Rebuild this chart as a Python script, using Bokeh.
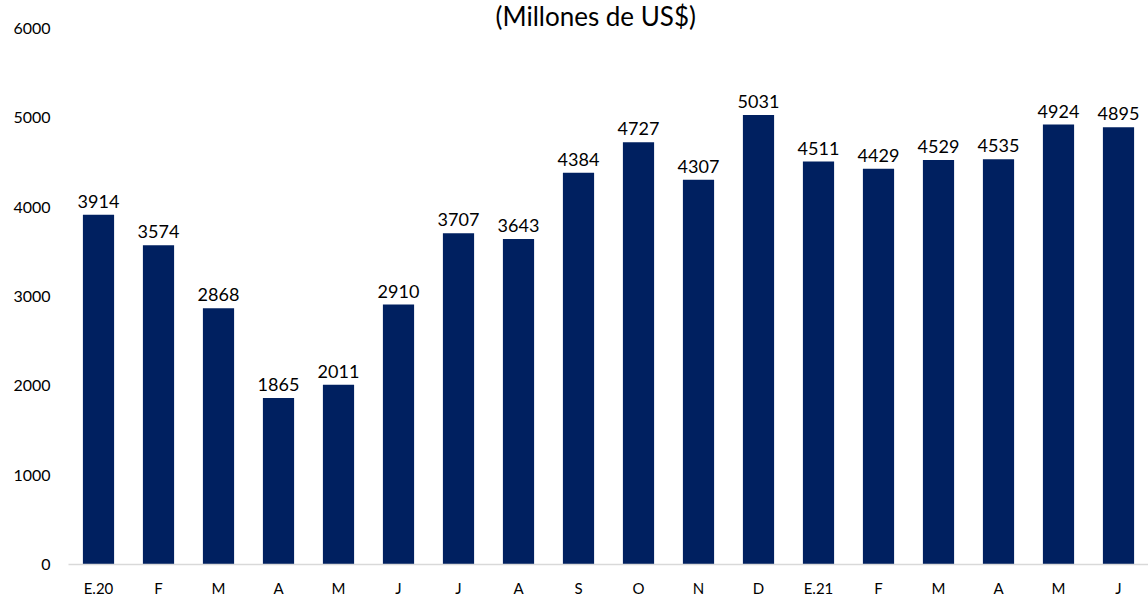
from bokeh.plotting import figure
from bokeh.models import ColumnDataSource, Range1d, FixedTicker
from bokeh.embed import file_html
from bokeh.resources import INLINE
from bokeh.core.properties import value

months = ["E.20", "F", "M", "A", "M", "J", "J", "A", "S", "O", "N", "D",
          "E.21", "F", "M", "A", "M", "J"]
values = [3914, 3574, 2868, 1865, 2011, 2910, 3707, 3643, 4384, 4727, 4307, 5031,
          4511, 4429, 4529, 4535, 4924, 4895]
title_text = "(Millones de US$)"
y_ticks = [0, 1000, 2000, 3000, 4000, 5000, 6000]

FONT = "Lato"
BAR = "#002060"

xs = list(range(len(months)))
src = ColumnDataSource(dict(x=xs, top=values, lbl=[str(v) for v in values]))

p = figure(width=1148, height=599, output_backend="svg", toolbar_location=None,
           x_range=Range1d(-0.5, len(months) - 0.5), y_range=Range1d(0, 6000),
           min_border_left=68, min_border_right=0, min_border_top=0, min_border_bottom=33,
           title=title_text)
p.outline_line_color = None
p.xgrid.grid_line_color = None
p.ygrid.grid_line_color = None

p.title.align = "left"
p.title.text_font = FONT
p.title.text_font_size = "26px"
p.title.text_font_style = "normal"
p.title.text_color = "#000000"
p.title.standoff = -6
p.title.offset = 427

p.vbar(x="x", top="top", width=0.52, source=src, fill_color=BAR, line_color=None)
p.text(x="x", y="top", text="lbl", source=src, text_align="center", text_baseline="bottom",
       y_offset=-7, text_font=value(FONT), text_font_size="18px", text_color="#000000")

p.xaxis.ticker = FixedTicker(ticks=xs)
p.xaxis.major_label_overrides = {i: m for i, m in enumerate(months)}
p.xaxis.axis_line_color = "#D9D9D9"
p.xaxis.axis_line_width = 1.5
p.xaxis.major_tick_line_color = None
p.xaxis.minor_tick_line_color = None
p.xaxis.major_label_standoff = 8
p.xaxis.major_label_text_font = FONT
p.xaxis.major_label_text_font_size = "15px"
p.xaxis.major_label_text_color = "#000000"

p.yaxis.ticker = FixedTicker(ticks=y_ticks)
p.yaxis.axis_line_color = None
p.yaxis.major_tick_line_color = None
p.yaxis.minor_tick_line_color = None
p.yaxis.major_tick_out = 0
p.yaxis.major_label_standoff = 18
p.yaxis.major_label_text_font = FONT
p.yaxis.major_label_text_font_size = "16px"
p.yaxis.major_label_text_color = "#000000"

open("out.html", "w").write(file_html(p, INLINE))
